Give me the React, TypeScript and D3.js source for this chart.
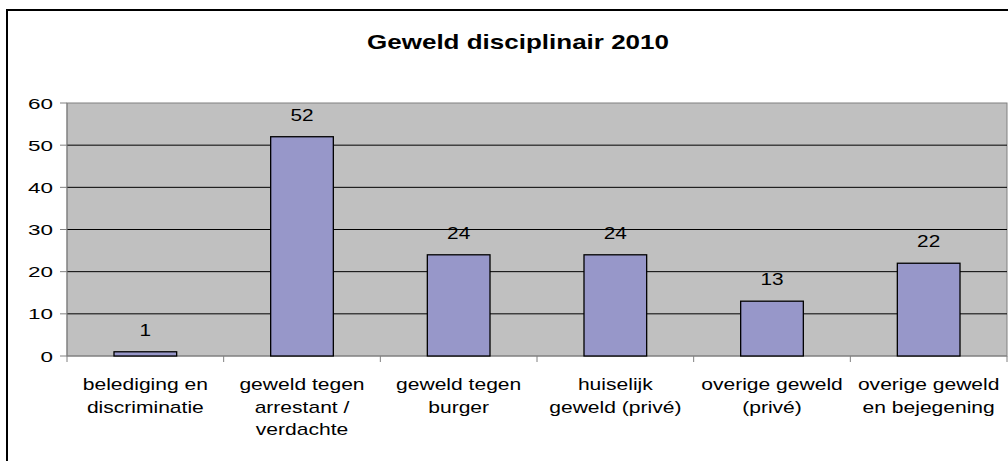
import React from 'react';
import { scaleBand, scaleLinear } from 'd3';

const title = 'Geweld disciplinair 2010';
const categories = [
  ['belediging en', 'discriminatie'],
  ['geweld tegen', 'arrestant /', 'verdachte'],
  ['geweld tegen', 'burger'],
  ['huiselijk', 'geweld (privé)'],
  ['overige geweld', '(privé)'],
  ['overige geweld', 'en bejegening'],
];
const values = [1, 52, 24, 24, 13, 22];
const yTicks = [0, 10, 20, 30, 40, 50, 60];

const W = 1008;
const H = 461;
const margin = { top: 103, right: 1, bottom: 105, left: 67 };
const font = 'Arial, "Liberation Sans", sans-serif';
// the source picture is stretched sideways, so text is too
const stretch = 1.3;

function Label({ x, y, size, anchor = 'middle', bold, sx = stretch, children }: any) {
  return (
    <text
      transform={`translate(${x}, ${y}) scale(${sx}, 1)`}
      textAnchor={anchor}
      fontSize={size}
      fontWeight={bold ? 'bold' : 'normal'}
      fill="#000"
    >
      {children}
    </text>
  );
}

export default function App() {
  const width = W - margin.left - margin.right;
  const height = H - margin.top - margin.bottom;
  const keys = categories.map((c) => c.join(' '));

  const x = scaleBand().domain(keys).range([0, width]).paddingInner(0).paddingOuter(0);
  const y = scaleLinear().domain([0, 60]).range([height, 0]);
  const barW = x.bandwidth() / 2.5;

  return (
    <svg
      width={W}
      height={H}
      style={{ position: 'absolute', left: 0, top: 0, background: '#fff' }}
      fontFamily={font}
    >
      <rect x={7} y={10} width={1020} height={470} fill="#fff" stroke="#000" strokeWidth={2} />
      <Label x={518} y={49} size={20} bold>
        {title}
      </Label>
      <g transform={`translate(${margin.left}, ${margin.top})`}>
        <rect x={0} y={0} width={width} height={height} fill="#c0c0c0" stroke="#808080" strokeWidth={1} />
        {yTicks.filter((t) => t > 0 && t < 60).map((t) => (
          <line key={`g-${t}`} x1={0} x2={width} y1={y(t)} y2={y(t)} stroke="#000" strokeWidth={1} />
        ))}
        {/* y axis */}
        <line x1={0} x2={0} y1={0} y2={height} stroke="#808080" />
        {yTicks.map((t) => (
          <g key={`yt-${t}`}>
            <line x1={-7} x2={0} y1={y(t)} y2={y(t)} stroke="#808080" />
            <Label x={-14} y={y(t) + 5.5} size={15.5} anchor="end" sx={1.45}>
              {t}
            </Label>
          </g>
        ))}
        {/* x axis */}
        <line x1={0} x2={width} y1={height} y2={height} stroke="#808080" />
        {keys.map((k, i) => (
          <line key={`xt-${i}`} x1={x(k)!} x2={x(k)!} y1={height} y2={height + 6} stroke="#808080" />
        ))}
        <line x1={width} x2={width} y1={height} y2={height + 6} stroke="#808080" />
        {keys.map((k, i) => {
          const cx = x(k)! + x.bandwidth() / 2;
          return (
            <g key={`bar-${k}`}>
              <rect
                x={cx - barW / 2}
                y={y(values[i])}
                width={barW}
                height={height - y(values[i])}
                fill="#9797c9"
                stroke="#000"
                strokeWidth={1.3}
              />
              <Label x={cx} y={y(values[i]) - 16} size={16}>
                {values[i]}
              </Label>
              {categories[i].map((line, j) => (
                <Label key={j} x={cx} y={height + 34 + j * 22.5} size={16.2}>
                  {line}
                </Label>
              ))}
            </g>
          );
        })}
      </g>
    </svg>
  );
}
